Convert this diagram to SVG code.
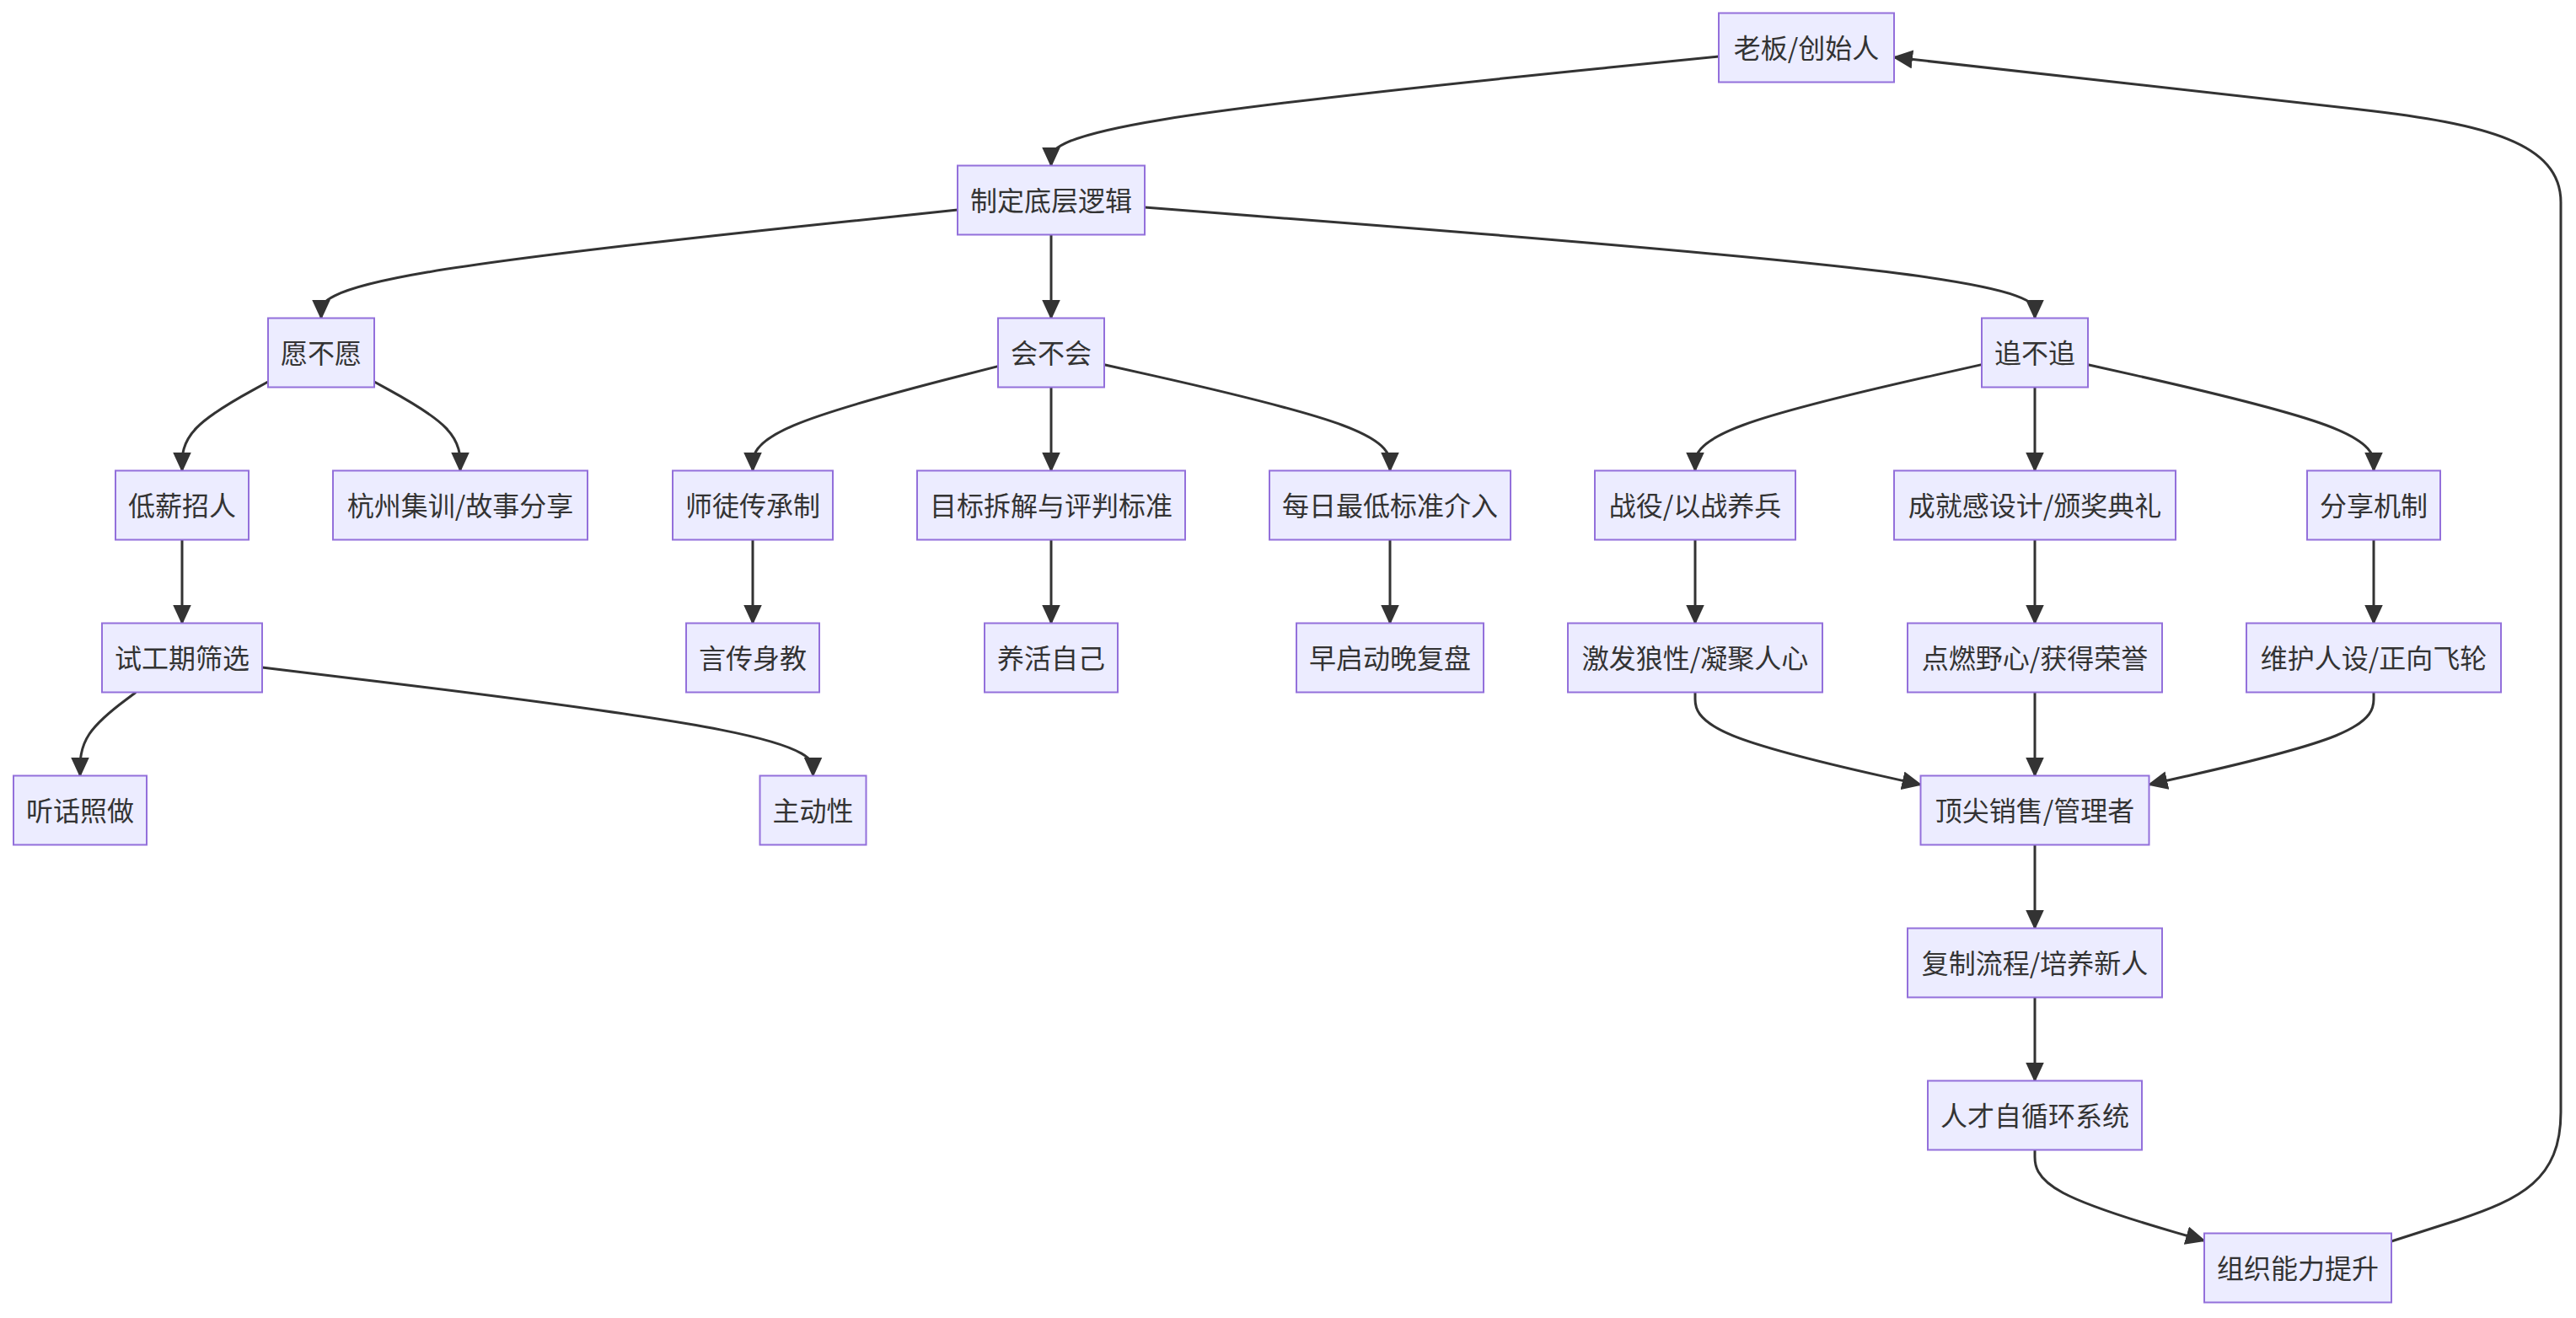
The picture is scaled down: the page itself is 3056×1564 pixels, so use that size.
<svg xmlns="http://www.w3.org/2000/svg" width="3056" height="1564" viewBox="0 0 3056 1564">
<style>
.node rect{fill:#ECECFF;stroke:#9370DB;stroke-width:2}
.node text{font-family:"Noto Sans CJK SC","Liberation Sans",sans-serif;font-size:32px;fill:#333;text-anchor:middle}
.edges path{fill:none;stroke:#333;stroke-width:3;marker-end:url(#arrow)}
</style>
<defs>
<marker id="arrow" viewBox="0 0 24 22" refX="22" refY="11" markerWidth="24" markerHeight="22" markerUnits="userSpaceOnUse" orient="auto">
<path d="M0,0 L24,11 L0,22 z" fill="#333"/>
</marker>
</defs>
<rect width="3056" height="1564" fill="#fff"/>
<g class="edges">
<path d="M2039,67 L1907,80.3 C1775,93.7 1511,120.3 1379,141.9 C1247,163.5 1247,180 1247,188.25 L1247,196.5"/>
<path d="M1136,249.1 L1010.2,262.25 C884.3,275.4 632.7,301.7 506.8,323.1 C381,344.5 381,361 381,369.25 L381,377.5"/>
<path d="M1247,278.5 L1247,377.5"/>
<path d="M1358,246.1 L1534,259.75 C1710,273.4 2062,300.7 2238,322.6 C2414,344.5 2414,361 2414,369.25 L2414,377.5"/>
<path d="M318,453 L301,462.4 C284,471.7 250,490.3 233,507.9 C216,525.5 216,542 216,550.25 L216,558.5"/>
<path d="M444,453 L461,462.4 C478,471.7 512,490.3 529,507.9 C546,525.5 546,542 546,550.25 L546,558.5"/>
<path d="M1184,434.6 L1135.5,447 C1087,459.4 990,484.2 941.5,504.85 C893,525.5 893,542 893,550.25 L893,558.5"/>
<path d="M1247,459.5 L1247,558.5"/>
<path d="M1310,432.7 L1366.5,445.4 C1423,458.1 1536,483.6 1592.5,504.5 C1649,525.5 1649,542 1649,550.25 L1649,558.5"/>
<path d="M2351,432.65 L2294.3,445.4 C2237.7,458.1 2124.3,483.55 2067.7,504.5 C2011,525.5 2011,542 2011,550.25 L2011,558.5"/>
<path d="M2414,459.5 L2414,558.5"/>
<path d="M2477,432.7 L2533.5,445.4 C2590,458.1 2703,483.6 2759.5,504.5 C2816,525.5 2816,542 2816,550.25 L2816,558.5"/>
<path d="M216,640.5 L216,739.5"/>
<path d="M893,640.5 L893,739.5"/>
<path d="M1247,640.5 L1247,739.5"/>
<path d="M1649,640.5 L1649,739.5"/>
<path d="M2011,640.5 L2011,739.5"/>
<path d="M2414,640.5 L2414,739.5"/>
<path d="M2816,640.5 L2816,739.5"/>
<path d="M161.2,821.5 L150.2,829.75 C139.1,838 117.1,854.5 106,871 C95,887.5 95,904 95,912.25 L95,920.5"/>
<path d="M311,792 L419.9,805.2 C528.8,818.3 746.7,844.7 855.6,866.1 C964.5,887.5 964.5,904 964.5,912.25 L964.5,920.5"/>
<path d="M2011,821.5 L2011,829.75 C2011,838 2011,854.5 2055.6,872.8 C2100.2,891 2189.3,911.1 2233.9,921.1 L2278.5,931.1"/>
<path d="M2414,821.5 L2414,920.5"/>
<path d="M2816,821.5 L2816,829.75 C2816,838 2816,854.5 2771.6,872.75 C2727.2,891 2638.3,911 2593.9,921 L2549.5,931"/>
<path d="M2414,1002.5 L2414,1101.5"/>
<path d="M2414,1183.5 L2414,1282.5"/>
<path d="M2414,1364.5 L2414,1372.75 C2414,1381 2414,1397.5 2447.5,1415.5 C2481,1433.4 2548,1452.9 2581.5,1462.6 L2615,1472.3"/>
<path d="M2837,1473 L2915,1448 C2990,1423 3038,1400 3038,1320 L3038,240 C3038,170 2950,147 2800,130 L2247,68"/>
</g>
<g id="nA" class="node"><rect x="2039" y="15.5" width="208" height="82"/><text x="2143" y="68.5">老板/创始人</text></g>
<g id="nB" class="node"><rect x="1136" y="196.5" width="222" height="82"/><text x="1247" y="249.5">制定底层逻辑</text></g>
<g id="nC" class="node"><rect x="318" y="377.5" width="126" height="82"/><text x="381" y="430.5">愿不愿</text></g>
<g id="nD" class="node"><rect x="1184" y="377.5" width="126" height="82"/><text x="1247" y="430.5">会不会</text></g>
<g id="nE" class="node"><rect x="2351" y="377.5" width="126" height="82"/><text x="2414" y="430.5">追不追</text></g>
<g id="nF" class="node"><rect x="137" y="558.5" width="158" height="82"/><text x="216" y="611.5">低薪招人</text></g>
<g id="nG" class="node"><rect x="395" y="558.5" width="302" height="82"/><text x="546" y="611.5">杭州集训/故事分享</text></g>
<g id="nH" class="node"><rect x="798" y="558.5" width="190" height="82"/><text x="893" y="611.5">师徒传承制</text></g>
<g id="nI" class="node"><rect x="1088" y="558.5" width="318" height="82"/><text x="1247" y="611.5">目标拆解与评判标准</text></g>
<g id="nJ" class="node"><rect x="1506" y="558.5" width="286" height="82"/><text x="1649" y="611.5">每日最低标准介入</text></g>
<g id="nK" class="node"><rect x="1892" y="558.5" width="238" height="82"/><text x="2011" y="611.5">战役/以战养兵</text></g>
<g id="nL" class="node"><rect x="2247" y="558.5" width="334" height="82"/><text x="2414" y="611.5">成就感设计/颁奖典礼</text></g>
<g id="nM" class="node"><rect x="2737" y="558.5" width="158" height="82"/><text x="2816" y="611.5">分享机制</text></g>
<g id="nN" class="node"><rect x="121" y="739.5" width="190" height="82"/><text x="216" y="792.5">试工期筛选</text></g>
<g id="nO" class="node"><rect x="814" y="739.5" width="158" height="82"/><text x="893" y="792.5">言传身教</text></g>
<g id="nP" class="node"><rect x="1168" y="739.5" width="158" height="82"/><text x="1247" y="792.5">养活自己</text></g>
<g id="nQ" class="node"><rect x="1538" y="739.5" width="222" height="82"/><text x="1649" y="792.5">早启动晚复盘</text></g>
<g id="nR" class="node"><rect x="1860" y="739.5" width="302" height="82"/><text x="2011" y="792.5">激发狼性/凝聚人心</text></g>
<g id="nS" class="node"><rect x="2263" y="739.5" width="302" height="82"/><text x="2414" y="792.5">点燃野心/获得荣誉</text></g>
<g id="nT" class="node"><rect x="2665" y="739.5" width="302" height="82"/><text x="2816" y="792.5">维护人设/正向飞轮</text></g>
<g id="nU" class="node"><rect x="16" y="920.5" width="158" height="82"/><text x="95" y="973.5">听话照做</text></g>
<g id="nV" class="node"><rect x="901.5" y="920.5" width="126" height="82"/><text x="964.5" y="973.5">主动性</text></g>
<g id="nW" class="node"><rect x="2278.5" y="920.5" width="271" height="82"/><text x="2414" y="973.5">顶尖销售/管理者</text></g>
<g id="nX" class="node"><rect x="2263" y="1101.5" width="302" height="82"/><text x="2414" y="1154.5">复制流程/培养新人</text></g>
<g id="nY" class="node"><rect x="2287" y="1282.5" width="254" height="82"/><text x="2414" y="1335.5">人才自循环系统</text></g>
<g id="nZ" class="node"><rect x="2615" y="1463.5" width="222" height="82"/><text x="2726" y="1516.5">组织能力提升</text></g>
</svg>
